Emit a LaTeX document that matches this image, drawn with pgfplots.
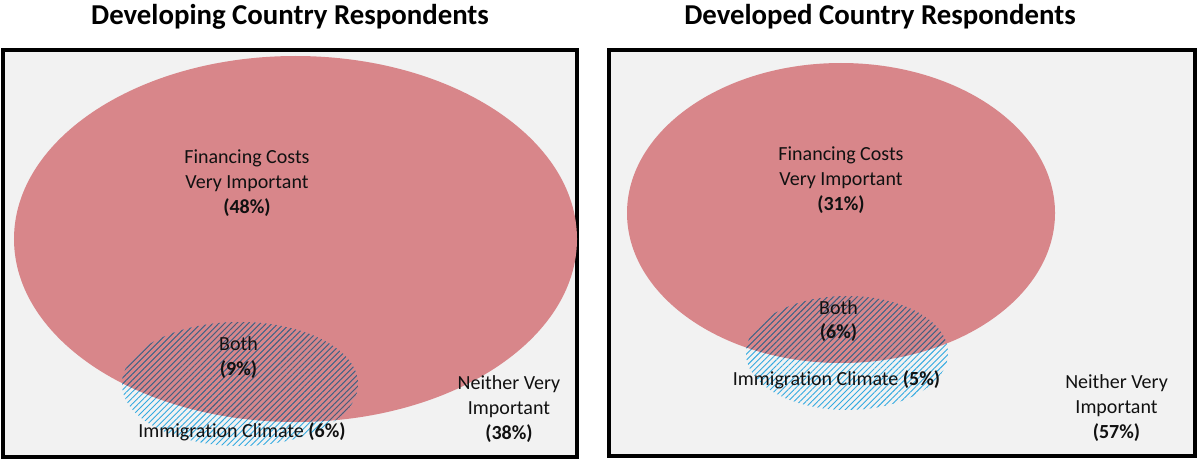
\documentclass[border=0pt]{standalone}
\usepackage{pgfplots}
\pgfplotsset{compat=1.18}
\usepackage{fontspec}
\setmainfont{Carlito}[Ligatures=NoCommon]
\usetikzlibrary{patterns.meta}
\definecolor{bggray}{HTML}{F2F2F2}
\definecolor{pinkfc}{RGB}{216,134,138}
\definecolor{hatchblue}{RGB}{50,170,225}
\definecolor{hatchdark}{RGB}{88,86,112}
\definecolor{txt}{HTML}{111111}
\pgfplotsset{
  every axis title shift=0pt,
  vennbox/.style={
    scale only axis,
    y dir=reverse,
    xtick=\empty, ytick=\empty,
    axis line style={line width=2pt, black},
    axis background/.style={fill=bggray},
    title style={font=\fontsize{14.4}{17}\selectfont\bfseries, anchor=center},
  },
}
\tikzset{
  lbl/.style={align=center, text=txt, font=\fontsize{10}{12.4}\selectfont},
  hatchB/.style={pattern={Lines[angle=45,distance=2.1pt,line width=0.45pt]}, pattern color=hatchblue},
  hatchD/.style={pattern={Lines[angle=45,distance=2.1pt,line width=0.45pt]}, pattern color=hatchdark},
}
\begin{document}
\begin{tikzpicture}
\path[use as bounding box] (0,0) rectangle (598.5pt,-229.5pt);
% Left panel
\begin{axis}[vennbox,
  at={(1.75pt,-25.25pt)}, anchor=north west,
  width=286.75pt, height=203pt,
  xmin=3.5, xmax=577, ymin=50.5, ymax=456.5,
  title={Developing Country Respondents},
  title style={at={(axis cs:290,17)}},
]
\fill[pinkfc] (axis cs:295.5,239) ellipse [x radius=281.5, y radius=183];
\path[hatchB] (axis cs:240,384) ellipse [x radius=118, y radius=62];
\begin{scope}
\clip (axis cs:295.5,239) ellipse [x radius=281.5, y radius=183];
\path[hatchD] (axis cs:240,384) ellipse [x radius=118, y radius=62];
\end{scope}
\node[lbl] at (axis cs:247,183) {Financing Costs\\Very Important\\\textbf{(48\%)}};
\node[lbl] at (axis cs:238.5,357.5) {Both\\\textbf{(9\%)}};
\node[lbl] at (axis cs:242,432) {Immigration Climate \textbf{(6\%)}};
\node[lbl] at (axis cs:509,409) {Neither Very\\Important\\\textbf{(38\%)}};
\end{axis}
% Right panel
\begin{axis}[vennbox,
  at={(304.5pt,-25.25pt)}, anchor=north west,
  width=293pt, height=202.75pt,
  xmin=609, xmax=1195, ymin=50.5, ymax=456,
  title={Developed Country Respondents},
  title style={at={(axis cs:880,17)}},
]
\fill[pinkfc] (axis cs:841,213) ellipse [x radius=214, y radius=150];
\path[hatchB] (axis cs:847,353) ellipse [x radius=101, y radius=57];
\begin{scope}
\clip (axis cs:841,213) ellipse [x radius=214, y radius=150];
\path[hatchD] (axis cs:847,353) ellipse [x radius=101, y radius=57];
\end{scope}
\node[lbl] at (axis cs:841,180) {Financing Costs\\Very Important\\\textbf{(31\%)}};
\node[lbl] at (axis cs:838.5,321) {Both\\\textbf{(6\%)}};
\node[lbl] at (axis cs:836.5,380) {Immigration Climate \textbf{(5\%)}};
\node[lbl] at (axis cs:1116.5,408) {Neither Very\\Important\\\textbf{(57\%)}};
\end{axis}
\end{tikzpicture}
\end{document}
